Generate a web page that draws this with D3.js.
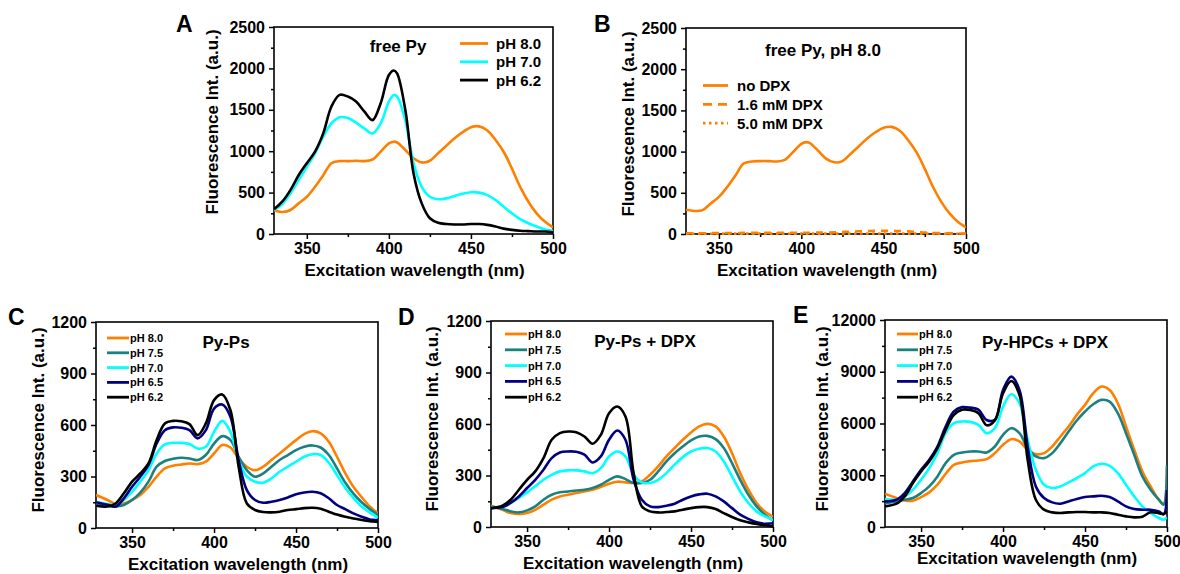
<!DOCTYPE html>
<html>
<head>
<meta charset="utf-8">
<script src="https://cdn.jsdelivr.net/npm/d3@7"></script>
<style>
body { margin: 0; background: #fff; }
svg text { font-family: "Liberation Sans", Arial, sans-serif; font-weight: bold; fill: #000; }
</style>
</head>
<body>
<script>
// wavelengths (nm)
var waveTop = [330,335,340,345,350,355,360,365,370,375,380,385,390,395,400,403,405,410,415,420,425,430,435,440,445,450,455,460,465,470,475,480,485,490,495,500];
var waveBottom = [328,335,340,345,350,355,360,365,370,375,380,385,390,395,400,405,410,415,420,425,430,435,440,445,450,455,460,465,470,475,480,485,490,495,498,500];

// A: free Py
var freePy80 = [290,265,290,370,450,570,710,855,880,880,885,880,900,995,1095,1115,1105,1015,915,865,885,975,1065,1155,1230,1290,1300,1250,1135,990,790,570,390,250,150,80];
var freePy70 = [290,360,490,650,810,975,1175,1335,1410,1400,1345,1275,1215,1335,1600,1680,1660,1375,855,570,450,420,430,460,485,505,500,470,410,330,250,180,130,90,55,40];
var freePy62 = [300,390,530,710,855,995,1215,1540,1680,1660,1600,1480,1375,1580,1920,1975,1940,1500,735,370,190,135,120,115,115,120,120,110,90,65,50,40,35,30,30,20];

// B: free Py, pH 8.0 with DPX
var noDPX = [295,280,290,370,450,570,710,855,880,885,885,880,900,995,1095,1115,1105,1015,915,870,885,975,1065,1160,1235,1290,1300,1250,1135,990,790,570,390,250,150,80];
var dpx16 = [10,10,10,10,12,12,12,14,14,15,15,15,15,16,16,16,16,17,18,20,24,28,33,36,38,38,38,36,32,26,18,12,10,8,6,5];
var dpx50 = [3,3,3,3,4,4,4,4,4,4,4,4,4,4,5,5,5,5,5,5,5,5,6,6,6,6,6,6,5,5,4,4,3,3,3,3];

// C: Py-Ps
var pyPs80 = [192,163,140,143,163,192,240,299,347,363,370,376,372,386,434,483,469,405,357,337,357,396,434,473,512,547,564,551,502,415,320,240,180,125,100,85];
var pyPs75 = [140,130,125,134,163,206,270,357,390,403,409,405,396,425,492,535,512,415,337,299,318,357,396,425,454,473,481,469,425,347,265,200,150,110,90,75];
var pyPs70 = [150,140,135,163,211,270,337,434,487,496,496,489,463,473,560,624,560,396,299,270,264,289,328,357,386,415,430,425,380,308,235,175,125,90,72,60];
var pyPs65 = [150,135,125,173,240,299,366,492,570,586,584,570,522,570,696,719,648,396,221,163,147,153,163,178,196,207,211,202,173,134,110,85,65,50,47,45];
var pyPs62 = [130,125,143,202,270,318,376,512,609,624,622,605,541,609,745,778,686,357,143,105,93,91,95,105,110,116,118,112,95,78,65,55,47,40,37,35];

// D: Py-Ps + DPX
var pyPsD80 = [124,100,81,76,81,100,130,159,178,188,198,207,217,233,252,264,260,256,266,304,353,411,460,508,551,586,601,586,527,430,314,217,140,90,70,60];
var pyPsD75 = [120,105,91,85,97,120,159,188,202,207,213,217,227,246,275,295,279,256,256,275,324,382,430,469,504,527,531,512,460,372,275,188,120,72,50,40];
var pyPsD70 = [116,116,140,169,202,237,275,304,324,330,330,324,314,343,411,440,411,304,260,256,275,314,363,407,440,456,460,440,382,295,207,140,91,62,50,40];
var pyPsD65 = [110,116,140,178,227,275,334,401,434,440,438,421,376,411,508,562,508,275,159,120,116,124,136,159,178,190,194,178,149,110,72,47,27,19,20,22];
var pyPsD62 = [110,124,159,217,275,324,401,508,547,556,552,527,485,537,663,702,644,314,120,91,85,87,91,101,110,116,116,105,81,58,39,27,17,10,6,4];

// E: Py-HPCs + DPX
var hpc80 = [1929,1678,1543,1524,1736,2006,2450,3086,3607,3742,3819,3858,3935,4282,4764,5092,4957,4475,4224,4282,4668,5247,5826,6500,7079,7754,8140,7947,7175,5826,4475,3221,2353,1582,1350,3450];
var hpc75 = [1389,1485,1582,1678,1968,2353,2932,3704,4186,4321,4379,4379,4321,4668,5343,5729,5440,4572,4090,3993,4282,4861,5536,6172,6693,7117,7368,7272,6596,5440,4186,2932,2160,1582,1300,3600];
var hpc70 = [1620,1582,1775,2160,2739,3414,4282,5440,6018,6115,6095,5922,5440,5729,6983,7697,7175,5054,3318,2450,2257,2353,2585,2836,3125,3511,3665,3549,3125,2450,1775,1196,810,521,424,580];
var hpc65 = [1485,1582,1968,2643,3318,3897,4668,5826,6700,6950,6920,6800,6200,6211,7947,8719,7947,4668,2353,1678,1427,1350,1485,1620,1736,1775,1813,1736,1485,1196,1042,1003,1000,900,750,2150];
var hpc62 = [1196,1350,1775,2546,3221,3800,4572,5633,6500,6800,6780,6600,5900,6172,7754,8468,7658,3897,1582,1003,849,810,849,868,868,849,849,810,714,617,560,600,850,800,750,900];

// tick values
var xTicks = [350,400,450,500];
var xMinor = [375,425,475];
var yTicksTop = [0,500,1000,1500,2000,2500];
var yMinorTop = [250,750,1250,1750,2250];
var yTicksPs = [0,300,600,900,1200];
var yMinorPs = [150,450,750,1050];
var yTicksHpc = [0,3000,6000,9000,12000];
var yMinorHpc = [1500,4500,7500,10500];

var orange = "#ff8000", teal = "#1b8080", cyan = "#00ffff", navy = "#000080", black = "#000000";
var phLabels5 = ["pH 8.0","pH 7.5","pH 7.0","pH 6.5","pH 6.2"];
var phColors5 = [orange, teal, cyan, navy, black];

var svg = d3.select("body").append("svg")
  .attr("width", 1180)
  .attr("height", 574);

var defs = svg.append("defs");

function drawPanel(p, idx) {
  var x = d3.scaleLinear().domain(p.xDomain).range([p.left, p.right]);
  var y = d3.scaleLinear().domain(p.yDomain).range([p.bottom, p.top]);
  var g = svg.append("g");

  // minor ticks
  var xm = g.append("g").attr("transform", "translate(0," + p.bottom + ")")
    .call(d3.axisBottom(x).tickValues(xMinor).tickSize(3).tickFormat(""));
  var ym = g.append("g").attr("transform", "translate(" + p.left + ",0)")
    .call(d3.axisLeft(y).tickValues(p.yMinor).tickSize(3).tickFormat(""));
  // major ticks
  var xa = g.append("g").attr("transform", "translate(0," + p.bottom + ")")
    .call(d3.axisBottom(x).tickValues(xTicks).tickSize(5).tickPadding(4).tickFormat(d3.format("d")));
  var ya = g.append("g").attr("transform", "translate(" + p.left + ",0)")
    .call(d3.axisLeft(y).tickValues(p.yTicks).tickSize(5).tickPadding(4).tickFormat(d3.format("d")));
  [xm, ym, xa, ya].forEach(function (a) {
    a.select(".domain").remove();
    a.selectAll("line").attr("stroke-width", 1.5);
    a.selectAll("text").attr("font-size", 16);
  });

  // frame
  g.append("rect")
    .attr("x", p.left).attr("y", p.top)
    .attr("width", p.right - p.left).attr("height", p.bottom - p.top)
    .attr("fill", "none").attr("stroke", "#000").attr("stroke-width", 1.6);

  defs.append("clipPath").attr("id", "clip" + idx)
    .append("rect")
    .attr("x", p.left).attr("y", p.top - 2)
    .attr("width", p.right - p.left).attr("height", p.bottom - p.top + 4);

  var line = d3.line()
    .x(function (d) { return x(d[0]); })
    .y(function (d) { return y(d[1]); })
    .curve(d3.curveCatmullRom.alpha(0.5));

  p.series.forEach(function (s) {
    g.append("path")
      .datum(p.wave.map(function (w, i) { return [w, s.values[i]]; }))
      .attr("clip-path", "url(#clip" + idx + ")")
      .attr("d", line)
      .attr("fill", "none")
      .attr("stroke", s.color)
      .attr("stroke-width", 2.6)
      .attr("stroke-linejoin", "round")
      .attr("stroke-dasharray", s.dash || null);
  });

  // legend
  p.series.forEach(function (s, i) {
    var ly = p.legend.y0 + i * p.legend.dy;
    g.append("line")
      .attr("x1", p.legend.x).attr("x2", p.legend.x + p.legend.len)
      .attr("y1", ly).attr("y2", ly)
      .attr("stroke", s.color).attr("stroke-width", 2.8)
      .attr("stroke-dasharray", s.legendDash || null);
    g.append("text")
      .attr("x", p.legend.tx).attr("y", ly)
      .attr("dy", "0.36em")
      .attr("font-size", p.legend.fs)
      .text(s.label);
  });

  // panel title
  g.append("text")
    .attr("x", p.title.x).attr("y", p.title.y)
    .attr("text-anchor", "middle")
    .attr("font-size", 17)
    .text(p.title.text);

  // panel letter
  g.append("text")
    .attr("x", p.letter.x).attr("y", p.letter.y)
    .attr("font-size", 23)
    .text(p.letter.text);

  // axis titles
  g.append("text")
    .attr("x", (p.left + p.right) / 2 + 1).attr("y", p.xTitleY)
    .attr("text-anchor", "middle")
    .attr("font-size", 17)
    .text("Excitation wavelength (nm)");
  g.append("text")
    .attr("transform", "translate(" + p.yTitleX + "," + p.yTitleC + ") rotate(-90)")
    .attr("text-anchor", "middle")
    .attr("font-size", 17)
    .text("Fluorescence Int. (a.u.)");
}

function fiveSeries(vals) {
  return vals.map(function (v, i) {
    return { label: phLabels5[i], color: phColors5[i], values: v };
  });
}

var panels = [
  {
    left: 274, right: 553, top: 27, bottom: 234,
    xDomain: [330, 500], yDomain: [0, 2500], wave: waveTop,
    yTicks: yTicksTop, yMinor: yMinorTop,
    series: [
      { label: "pH 8.0", color: orange, values: freePy80 },
      { label: "pH 7.0", color: cyan, values: freePy70 },
      { label: "pH 6.2", color: black, values: freePy62 }
    ],
    legend: { x: 460, len: 28, tx: 496, y0: 43.5, dy: 18.3, fs: 15 },
    title: { text: "free Py", x: 398, y: 52 },
    letter: { text: "A", x: 176, y: 32 },
    xTitleY: 276, yTitleX: 218, yTitleC: 122
  },
  {
    left: 686, right: 966, top: 28, bottom: 234,
    xDomain: [330, 500], yDomain: [0, 2500], wave: waveTop,
    yTicks: yTicksTop, yMinor: yMinorTop,
    series: [
      { label: "no DPX", color: orange, values: noDPX },
      { label: "1.6 mM DPX", color: orange, values: dpx16, dash: "7,6", legendDash: "9,6" },
      { label: "5.0 mM DPX", color: orange, values: dpx50, dash: "2.5,3.5", legendDash: "2.5,3.5" }
    ],
    legend: { x: 703, len: 25, tx: 737, y0: 85.5, dy: 18.8, fs: 15 },
    title: { text: "free Py, pH 8.0", x: 823, y: 56 },
    letter: { text: "B", x: 594, y: 32 },
    xTitleY: 276, yTitleX: 634, yTitleC: 124
  },
  {
    left: 96, right: 378, top: 322, bottom: 528,
    xDomain: [328, 500], yDomain: [0, 1200], wave: waveBottom,
    yTicks: yTicksPs, yMinor: yMinorPs,
    series: fiveSeries([pyPs80, pyPs75, pyPs70, pyPs65, pyPs62]),
    legend: { x: 107, len: 22, tx: 130, y0: 338, dy: 14.8, fs: 11 },
    title: { text: "Py-Ps", x: 226, y: 348 },
    letter: { text: "C", x: 8, y: 325 },
    xTitleY: 570, yTitleX: 44, yTitleC: 420
  },
  {
    left: 491, right: 773, top: 321, bottom: 527,
    xDomain: [328, 500], yDomain: [0, 1200], wave: waveBottom,
    yTicks: yTicksPs, yMinor: yMinorPs,
    series: fiveSeries([pyPsD80, pyPsD75, pyPsD70, pyPsD65, pyPsD62]),
    legend: { x: 505, len: 22, tx: 528, y0: 334, dy: 15.8, fs: 11 },
    title: { text: "Py-Ps + DPX", x: 645, y: 347 },
    letter: { text: "D", x: 398, y: 325 },
    xTitleY: 569, yTitleX: 438, yTitleC: 419
  },
  {
    left: 885, right: 1167, top: 320, bottom: 527,
    xDomain: [328, 500], yDomain: [0, 12000], wave: waveBottom,
    yTicks: yTicksHpc, yMinor: yMinorHpc,
    series: fiveSeries([hpc80, hpc75, hpc70, hpc65, hpc62]),
    legend: { x: 897, len: 21, tx: 919, y0: 334, dy: 15.8, fs: 11 },
    title: { text: "Py-HPCs + DPX", x: 1045, y: 348 },
    letter: { text: "E", x: 793, y: 323 },
    xTitleY: 564, yTitleX: 828, yTitleC: 419
  }
];

panels.forEach(drawPanel);
</script>
</body>
</html>
